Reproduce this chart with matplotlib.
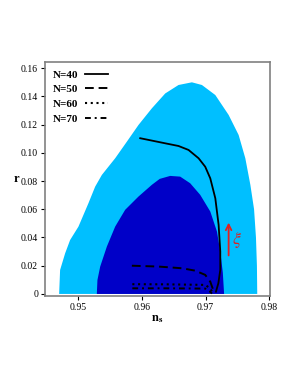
import matplotlib.pyplot as plt
from matplotlib.patches import Polygon
from matplotlib.ticker import FuncFormatter

plt.rcParams['font.family'] = ['Liberation Serif', 'DejaVu Serif']
plt.rcParams['mathtext.fontset'] = 'stix'

# outer (light) and inner (dark) contours
outer_ns = [0.94702, 0.94717, 0.94796, 0.94874, 0.95005, 0.95162, 0.95267, 0.95372,
            0.95581, 0.95765, 0.95947, 0.96157, 0.96366, 0.96575, 0.96785, 0.96942,
            0.97152, 0.97361, 0.97518, 0.97623, 0.97702, 0.97760, 0.97790, 0.97805,
            0.97810]
outer_r = [0.0, 0.017, 0.0288, 0.0382, 0.0477, 0.0643, 0.076, 0.0843,
           0.0961, 0.1079, 0.1197, 0.1315, 0.1420, 0.1480, 0.1499, 0.1480,
           0.1409, 0.1268, 0.1126, 0.0961, 0.0773, 0.060, 0.040, 0.020,
           0.0]

inner_ns = [0.95293, 0.95303, 0.95346, 0.95451, 0.95581, 0.95738, 0.95947, 0.96157,
            0.96280, 0.96444, 0.96601, 0.96758, 0.96915, 0.97073, 0.97178, 0.97230,
            0.97270, 0.97290]
inner_r = [0.0, 0.0099, 0.0194, 0.0336, 0.0477, 0.0596, 0.069, 0.0773,
           0.0815, 0.0836, 0.0831, 0.0784, 0.0702, 0.0584, 0.0442, 0.030,
           0.015, 0.0]

# predictions for different N
n40_ns = [0.95974, 0.96366, 0.96575, 0.96732, 0.96890, 0.96994, 0.97073, 0.97152,
          0.97204, 0.97230, 0.97230, 0.97200, 0.97162]
n40_r = [0.1103, 0.1067, 0.1048, 0.1020, 0.0961, 0.0901, 0.0819, 0.0678,
         0.0489, 0.0300, 0.0170, 0.0076, 0.0016]

n50_ns = [0.95843, 0.96261, 0.96628, 0.96837, 0.96994, 0.97073, 0.97110, 0.97126]
n50_r = [0.0200, 0.0194, 0.0182, 0.0165, 0.0135, 0.0087, 0.0040, 0.0009]

n60_ns = [0.95850, 0.96400, 0.96994, 0.97070, 0.97110]
n60_r = [0.0069, 0.0068, 0.0064, 0.0040, 0.0009]

n70_ns = [0.95850, 0.96400, 0.96994, 0.97070, 0.97100]
n70_r = [0.0040, 0.0040, 0.0038, 0.0016, 0.0003]

xticks = [0.95, 0.96, 0.97, 0.98]
yticks = [0, 0.02, 0.04, 0.06, 0.08, 0.10, 0.12, 0.14, 0.16]

fig = plt.figure(figsize=(2.98, 3.85), dpi=100)
ax = fig.add_axes([0.151, 0.231, 0.755, 0.608])

ax.add_patch(Polygon(list(zip(outer_ns, outer_r)), closed=True, facecolor='#00BFFF', edgecolor='none'))
ax.add_patch(Polygon(list(zip(inner_ns, inner_r)), closed=True, facecolor='#0000C8', edgecolor='none'))

ax.plot(n40_ns, n40_r, color='black', lw=1.3, ls='-', label='N=40')
ax.plot(n50_ns, n50_r, color='black', lw=1.4, ls=(0, (4.5, 2.5)), label='N=50')
ax.plot(n60_ns, n60_r, color='black', lw=1.5, ls=(0, (1, 1.75)), label='N=60')
ax.plot(n70_ns, n70_r, color='black', lw=1.4, ls=(0, (3, 2, 1, 2)), label='N=70')

ax.annotate('', xy=(0.97361, 0.0525), xytext=(0.97361, 0.0253),
            arrowprops=dict(arrowstyle='->', color='#E02020', lw=1.3))
ax.text(0.97492, 0.0382, r'$\xi$', color='#E02020', fontsize=13, ha='center', va='center')

ax.set_xlim(0.9448, 0.9801)
ax.set_ylim(-0.0015, 0.1643)
ax.set_xticks(xticks)
ax.set_yticks(yticks)
ax.xaxis.set_major_formatter(FuncFormatter(lambda v, p: '%.2f' % v))
ax.yaxis.set_major_formatter(FuncFormatter(lambda v, p: '0' if abs(v) < 1e-9 else '%.2f' % v))
ax.tick_params(direction='out', length=3, width=0.8, labelsize=7, pad=2)

for s in ax.spines.values():
    s.set_color('#808080')
    s.set_linewidth(1.2)

ax.set_xlabel(r'$\mathbf{n_s}$', fontsize=9, labelpad=1)
ax.set_ylabel('r', fontsize=9, fontweight='bold', rotation=0, labelpad=3, va='center')

leg = ax.legend(loc='upper left', frameon=False, markerfirst=False,
                prop={'size': 8, 'weight': 'bold'}, handlelength=2.1,
                labelspacing=0.45, borderaxespad=0.3, handletextpad=0.6)

fig.savefig('out.png', dpi=100)
